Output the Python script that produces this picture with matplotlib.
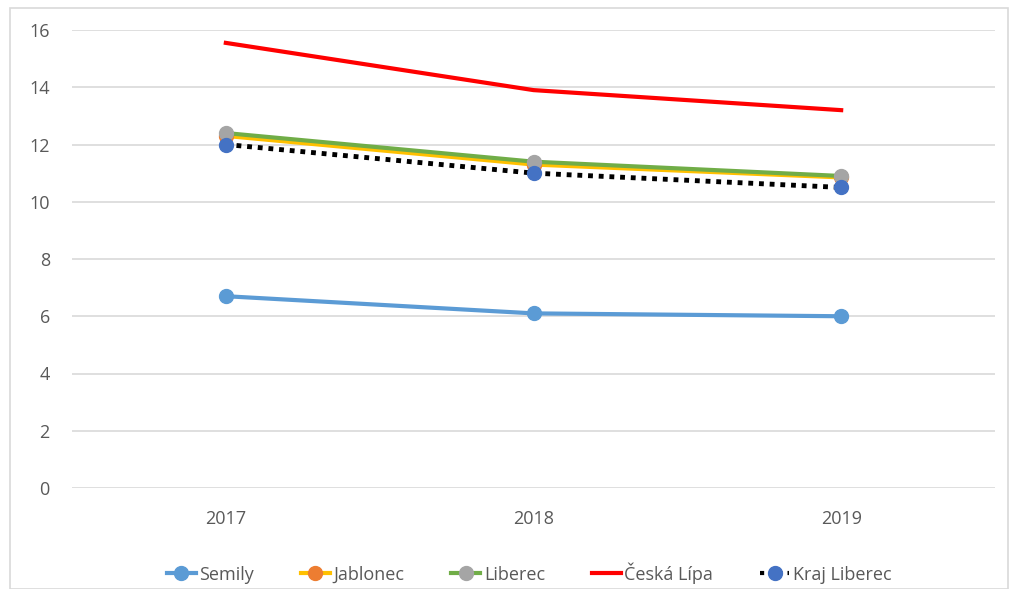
import matplotlib
matplotlib.use("Agg")
import matplotlib.pyplot as plt
from matplotlib.lines import Line2D
from matplotlib.patches import Rectangle

years = ["2017", "2018", "2019"]
semily = [6.7, 6.1, 6.0]
jablonec = [12.3, 11.3, 10.85]
liberec = [12.4, 11.4, 10.9]
ceska_lipa = [15.55, 13.9, 13.2]
kraj_liberec = [12.0, 11.0, 10.5]
yticks = [0, 2, 4, 6, 8, 10, 12, 14, 16]

plt.rcParams['font.family'] = ['Open Sans', 'DejaVu Sans']

fig = plt.figure(figsize=(10.11, 5.89), dpi=100)
W, H = 1011, 589
ax = fig.add_axes([72 / W, 1 - 488 / H, (995 - 72) / W, (488 - 30) / H])

x = list(range(len(years)))
tick_col = '#595959'

ax.plot(x, semily, color='#5B9BD5', lw=3, marker='o', ms=10, zorder=3)
ax.plot(x, kraj_liberec, color='black', lw=3.5, ls=(0, (1, 1.2)), zorder=3)
ax.plot(x, jablonec, color='#FFC000', lw=3, marker='o', ms=10,
        mfc='#ED7D31', mec='#ED7D31', zorder=4)
ax.plot(x, liberec, color='#70AD47', lw=3, marker='o', ms=10,
        mfc='#A5A5A5', mec='#A5A5A5', zorder=5)
ax.plot(x, kraj_liberec, ls='none', marker='o', ms=10,
        mfc='#4472C4', mec='#4472C4', zorder=6)
ax.plot(x, ceska_lipa, color='#FF0000', lw=3, zorder=6)

ax.set_xlim(-0.5, len(years) - 0.5)
ax.set_ylim(0, 16)
ax.set_yticks(yticks)
ax.set_xticks(x)
ax.set_xticklabels(years)
ax.tick_params(axis='both', length=0, labelsize=13, colors=tick_col)
ax.tick_params(axis='y', pad=16)
ax.tick_params(axis='x', pad=16)
ax.grid(axis='y', color='#D9D9D9', lw=1.2)
for s in ax.spines.values():
    s.set_visible(False)
ax.set_axisbelow(True)

handles = [
    Line2D([], [], color='#5B9BD5', lw=3, marker='o', ms=10),
    Line2D([], [], color='#FFC000', lw=3, marker='o', ms=10, mfc='#ED7D31', mec='#ED7D31'),
    Line2D([], [], color='#70AD47', lw=3, marker='o', ms=10, mfc='#A5A5A5', mec='#A5A5A5'),
    Line2D([], [], color='#FF0000', lw=3),
    Line2D([], [], color='black', lw=3, ls=(0, (1, 1.2)), marker='o', ms=10,
           mfc='#4472C4', mec='#4472C4'),
]
labels = ["Semily", "Jablonec", "Liberec", "Česká Lípa", "Kraj Liberec"]
leg = fig.legend(handles, labels, loc='center', bbox_to_anchor=(529 / W, 1 - 573 / H),
                 ncol=5, frameon=False, fontsize=13, handlelength=1.6,
                 handletextpad=0.2, columnspacing=2.6)
for t in leg.get_texts():
    t.set_color(tick_col)

fig.patches.append(Rectangle((10 / W, 0), (1008 - 10) / W, 1 - 8 / H,
                             transform=fig.transFigure, fill=False,
                             ec='#D9D9D9', lw=1.2))

fig.savefig('out.png', dpi=100)
